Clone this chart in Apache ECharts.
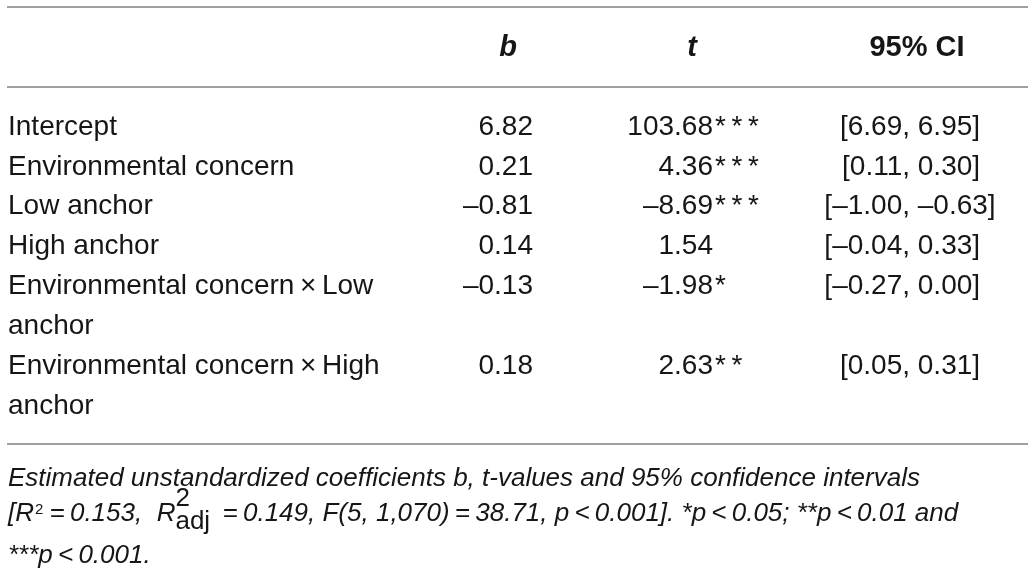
<!DOCTYPE html>
<html><head><meta charset="utf-8">
<script src="https://cdn.jsdelivr.net/npm/echarts@6/dist/echarts.min.js"></script>
<style>html,body{margin:0;padding:0;background:#fff}#c{width:1035px;height:573px}</style>
</head><body><div id="c"></div>
<script>
// ---- data ----
const columns = ['b', 't', '95% CI'];
const rowLabels = [
  'Intercept',
  'Environmental concern',
  'Low anchor',
  'High anchor',
  'Environmental concern\u2009\u00d7\u2009Low\nanchor',
  'Environmental concern\u2009\u00d7\u2009High\nanchor'
];
const bValues = [6.82, 0.21, -0.81, 0.14, -0.13, 0.18];
const tValues = [103.68, 4.36, -8.69, 1.54, -1.98, 2.63];
const tStars = ['***', '***', '***', '', '*', '**'];
const ciLower = [6.69, 0.11, -1.00, -0.04, -0.27, 0.05];
const ciUpper = [6.95, 0.30, -0.63, 0.33, 0.00, 0.31];
const noteLine1 = 'Estimated unstandardized coefficients b, t-values and 95% confidence intervals';
const noteLine2 = '{n|[R}{sup|2}{n|\u2009=\u20090.153,  R}{s2|2}{adj|adj}{n| \u2009=\u20090.149, F(5, 1,070)\u2009=\u200938.71, p\u2009<\u20090.001]. *p\u2009<\u20090.05; **p\u2009<\u20090.01 and}';
const noteLine3 = '***p\u2009<\u20090.001.';

// ---- derived ----
const yLines = rowLabels.flatMap(s => s.split('\n'));
const rowStart = [];
{ let k = 0; rowLabels.forEach(s => { rowStart.push(k); k += s.split('\n').length; }); }
const fmt = v => (v < 0 ? '\u2013' : '') + Math.abs(v).toFixed(2);
const starFmt = s => s.split('').join('\u2009');

const FONT = '"Liberation Sans", Arial, Helvetica, sans-serif';
const INK = '#161616';
const RULE = '#a0a0a0';
const colCenter = [508, 692, 917];
const colW = 180;
const gTop = 107, gH = 319;

const grids = colCenter.map(c => ({ left: c - colW / 2, width: colW, top: gTop, height: gH, outerBoundsMode: 'none', containLabel: false }));
const xAxes = columns.map((name, i) => ({
  gridIndex: i, type: 'category', data: [name], position: 'top',
  axisLine: { show: false }, axisTick: { show: false }, splitLine: { show: false },
  axisLabel: { margin: 44, fontSize: 29, lineHeight: 30, fontWeight: 'bold', fontStyle: i < 2 ? 'italic' : 'normal', color: INK, fontFamily: FONT }
}));
const yAxes = columns.map((_, i) => ({
  gridIndex: i, type: 'category', inverse: true, data: yLines.map((_, k) => 'L' + k),
  axisLine: { show: false }, axisTick: { show: false }, splitLine: { show: false },
  axisLabel: i === 0 ? {
    show: true, interval: 0, align: 'left', margin: colCenter[0] - colW / 2 - 8,
    fontSize: 28, color: INK, fontFamily: FONT,
    formatter: (v, idx) => yLines[idx]
  } : { show: false }
}));

function cellSeries(grid, texts, align, dx) {
  return {
    type: 'scatter', xAxisIndex: grid, yAxisIndex: grid, symbolSize: 0, silent: true,
    itemStyle: { opacity: 1 },
    emphasis: { disabled: true },
    data: texts.map((t, i) => ({ value: [0, rowStart[i]], txt: t })),
    label: {
      show: true, position: 'inside', fontSize: 28, color: INK, opacity: 1, fontFamily: FONT,
      verticalAlign: 'middle', align: align, offset: [dx, 0], formatter: p => p.data.txt
    }
  };
}

const series = [
  cellSeries(0, bValues.map(fmt), 'right', 25),
  cellSeries(1, tValues.map(fmt), 'right', 21),
  cellSeries(1, tStars.map(starFmt), 'left', 23),
  cellSeries(2, ciLower.map(v => '[' + fmt(v) + ','), 'right', -7),
  cellSeries(2, ciUpper.map(v => ' ' + fmt(v) + ']'), 'left', -7)
];

const noteStyle = { fontSize: 26, fontStyle: 'italic', fontWeight: 'normal', color: INK, fontFamily: FONT, lineHeight: 30 };
const tok = (o) => Object.assign({ color: INK, fontFamily: FONT, fontSize: 26, lineHeight: 30, verticalAlign: 'middle' }, o);
const chart = echarts.init(document.getElementById('c'), null, { renderer: 'canvas' });
chart.setOption({
  animation: false,
  backgroundColor: '#ffffff',
  title: [
    { text: noteLine1, left: 8, top: 464, padding: 0, textStyle: noteStyle },
    { text: noteLine2, left: 8, top: 499, padding: 0, textStyle: Object.assign({}, noteStyle, {
        rich: {
          n: tok({ fontStyle: 'italic' }),
          sup: tok({ fontSize: 15, lineHeight: 16, fontStyle: 'normal', padding: [0, 1, 9, 1] }),
          s2: tok({ fontStyle: 'normal', width: 0, padding: [0, 0, 30, 0] }),
          adj: tok({ fontStyle: 'normal', padding: [16, 0, 0, 0] })
        }
      }) },
    { text: noteLine3, left: 8, top: 541, padding: 0, textStyle: noteStyle }
  ],
  grid: grids,
  xAxis: xAxes,
  yAxis: yAxes,
  series: series,
  graphic: [7, 87, 444].map(y => ({
    type: 'line', silent: true,
    shape: { x1: 7, y1: y, x2: 1028, y2: y },
    style: { stroke: RULE, lineWidth: 2 }
  }))
});
</script></body></html>
